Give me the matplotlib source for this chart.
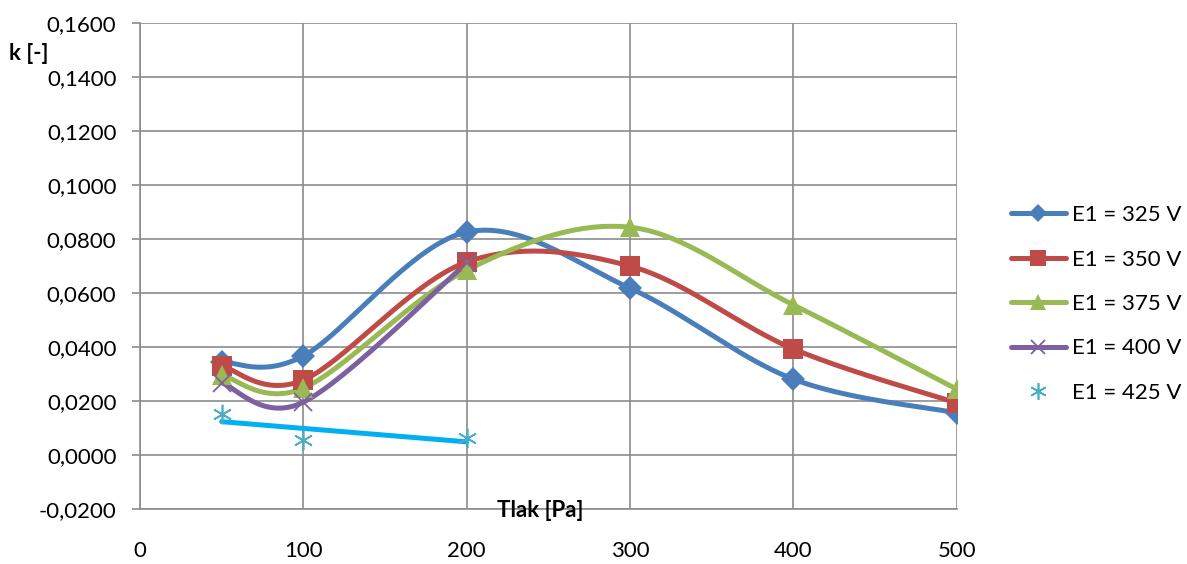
import matplotlib
matplotlib.use('Agg')
import matplotlib.pyplot as plt
import numpy as np

plt.rcParams['font.family'] = ['Lato', 'DejaVu Sans']

# Data
pressure = [50, 100, 200, 300, 400, 500]
k_325 = [0.0344, 0.0367, 0.0826, 0.0618, 0.0281, 0.0156]
k_350 = [0.0330, 0.0278, 0.0715, 0.0700, 0.0393, 0.0193]
k_375 = [0.0296, 0.0248, 0.0685, 0.0844, 0.0556, 0.0244]
pressure_400 = [50, 100, 200]
k_400 = [0.0267, 0.0196, 0.0711]
pressure_425 = [50, 100, 200]
k_425 = [0.0152, 0.0056, 0.0063]

labels = ['E1 = 325 V', 'E1 = 350 V', 'E1 = 375 V', 'E1 = 400 V', 'E1 = 425 V']
y_ticks = np.arange(-0.02, 0.1601, 0.02)
x_ticks = [0, 100, 200, 300, 400, 500]


def smooth(x, y, n=40):
    # Excel-like smoothed line (Catmull-Rom bezier)
    p = np.column_stack([x, y]).astype(float)
    out = []
    t = np.linspace(0, 1, n)[:, None]
    for i in range(len(p) - 1):
        p0 = p[max(i - 1, 0)]
        p1 = p[i]
        p2 = p[i + 1]
        p3 = p[min(i + 2, len(p) - 1)]
        c1 = p1 + (p2 - p0) / 6
        c2 = p2 - (p3 - p1) / 6
        seg = ((1 - t) ** 3) * p1 + 3 * ((1 - t) ** 2) * t * c1 + 3 * (1 - t) * t ** 2 * c2 + t ** 3 * p2
        out.append(seg if i == 0 else seg[1:])
    out = np.vstack(out)
    return out[:, 0], out[:, 1]


fs = 16

fig = plt.figure(figsize=(11.87, 5.64), dpi=100)
ax = fig.add_axes([0.118, 0.0975, 0.688, 0.8615])

series = [
    (pressure, k_325, '#4A7EBB', 'D', 12),
    (pressure, k_350, '#BE4B48', 's', 14),
    (pressure, k_375, '#98B954', '^', 15),
    (pressure_400, k_400, '#7D60A0', 'x', 13),
]
handles = []
for (x, y, c, m, ms), lab in zip(series, labels):
    sx, sy = smooth(x, y)
    ax.plot(sx, sy, color=c, linewidth=3.6, solid_capstyle='round', zorder=3)
    mew = 1.3 if m == 'x' else 0
    ax.plot(x, y, linestyle='none', marker=m, markersize=ms, color=c,
            markeredgewidth=mew, zorder=4)
    h, = ax.plot([], [], color=c, linewidth=3.6, marker=m, markersize=ms * 0.8,
                 markeredgewidth=mew, solid_capstyle='round')
    handles.append(h)

# E1 = 425 V: markers only + linear trendline
ax.plot(pressure_425, k_425, linestyle='none', marker=(6, 2, 0), markersize=14,
        color='#4BACC6', markeredgewidth=1.2, zorder=4)
coef = np.polyfit(pressure_425, k_425, 1)
tx = np.array([pressure_425[0], pressure_425[-1]])
ax.plot(tx, np.polyval(coef, tx), color='#00B0F0', linewidth=3.6,
        solid_capstyle='round', zorder=3)
h, = ax.plot([], [], linestyle='none', marker=(6, 2, 0), markersize=12,
             color='#4BACC6', markeredgewidth=1.2)
handles.append(h)

ax.set_xlim(0, 500)
ax.set_ylim(-0.02, 0.16)
ax.set_xticks(x_ticks)
ax.set_yticks(y_ticks)
ax.set_xticklabels([str(v) for v in x_ticks])
ax.set_yticklabels([('%.4f' % v).replace('.', ',').replace('-0,0000', '0,0000') for v in y_ticks])
ax.grid(True, color='#8C8C8C', linewidth=1.2)
ax.set_axisbelow(True)
for s in ['top', 'right']:
    ax.spines[s].set_visible(False)
for s in ['left', 'bottom']:
    ax.spines[s].set_color('#8C8C8C')
    ax.spines[s].set_linewidth(1.2)
ax.tick_params(axis='y', length=6, width=1.2, color='#8C8C8C', labelsize=fs, pad=11)
ax.tick_params(axis='x', length=0, labelsize=fs, pad=23)

fig.text(0.008, 0.905, 'k [-]', fontsize=fs, fontweight='bold', ha='left', va='center')
fig.text(0.455, 0.095, 'Tlak [Pa]', fontsize=fs, fontweight='bold', ha='center', va='center')

fig.legend(handles, labels, loc='center left', bbox_to_anchor=(0.844, 0.461),
           frameon=False, fontsize=fs, labelspacing=1.1, handlelength=2.5,
           handletextpad=0.25, borderaxespad=0)

fig.savefig('out.png', dpi=100)
